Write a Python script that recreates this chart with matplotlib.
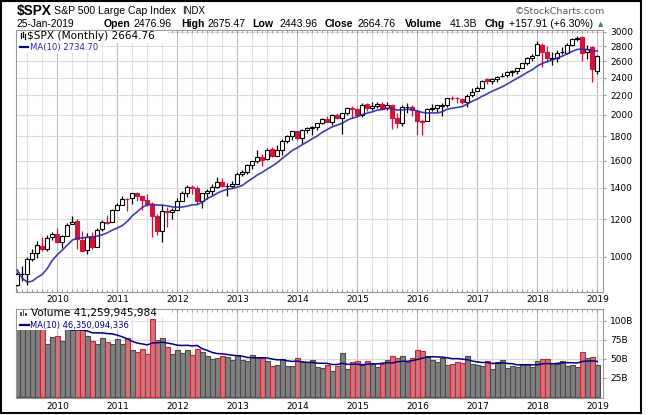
import numpy as np
import pandas as pd
import matplotlib
matplotlib.use('Agg')
import matplotlib.pyplot as plt
from matplotlib.patches import Rectangle
from matplotlib.lines import Line2D
from matplotlib.ticker import FixedLocator, NullLocator, NullFormatter

# monthly $SPX candles, May 2009 .. Jan 2019
months = pd.date_range('2009-05-01', '2019-01-01', freq='MS')

# closes Aug 2008 .. Apr 2009, only needed to start the 10-month average
prior_closes = [1282.83, 1166.36, 968.75, 896.24, 903.25, 825.88, 735.09, 797.87, 872.81]

opens = [
    872.74, 919.96, 920.82, 990.22, 1019.52, 1054.91, 1036.18, 1098.89,
    1116.56, 1073.89, 1105.36, 1171.23, 1188.58, 1087.30, 1031.10, 1107.53, 1049.72, 1143.49, 1185.71, 1186.60,
    1257.62, 1289.14, 1328.64, 1329.48, 1365.21, 1345.20, 1320.64, 1292.59, 1219.12, 1131.21, 1251.00, 1246.91,
    1258.86, 1312.45, 1365.90, 1408.47, 1397.86, 1309.87, 1362.33, 1379.32, 1406.54, 1440.90, 1412.20, 1416.18,
    1426.19, 1498.11, 1514.68, 1569.18, 1597.55, 1631.71, 1609.78, 1689.42, 1635.95, 1682.41, 1758.70, 1806.55,
    1845.86, 1782.68, 1857.68, 1873.96, 1884.39, 1923.87, 1962.29, 1929.80, 2004.07, 1971.44, 2018.21, 2065.78,
    2058.90, 1996.67, 2105.23, 2067.63, 2087.38, 2108.64, 2067.00, 2104.49, 1970.09, 1919.65, 2080.76, 2082.93,
    2038.20, 1936.94, 1937.09, 2056.62, 2067.17, 2093.94, 2099.34, 2173.15, 2171.33, 2164.33, 2128.68, 2200.17,
    2251.57, 2285.59, 2380.13, 2362.34, 2388.50, 2415.65, 2431.39, 2477.10, 2474.42, 2521.20, 2583.21, 2645.10,
    2683.73, 2816.45, 2715.22, 2633.45, 2642.96, 2718.70, 2704.95, 2821.17, 2896.96, 2926.29, 2717.58, 2790.50,
    2476.96]
highs = [
    930.17, 956.23, 996.68, 1039.47, 1080.15, 1101.36, 1113.69, 1130.38,
    1150.45, 1112.42, 1180.69, 1219.80, 1205.13, 1131.23, 1120.95, 1129.24, 1148.90, 1196.14, 1227.08, 1262.60,
    1302.67, 1344.07, 1332.28, 1364.56, 1370.58, 1345.20, 1356.48, 1307.38, 1229.29, 1292.66, 1277.55, 1269.37,
    1333.47, 1378.04, 1419.15, 1422.38, 1415.32, 1363.46, 1391.74, 1426.68, 1474.51, 1470.96, 1434.27, 1448.00,
    1509.94, 1530.94, 1570.28, 1597.57, 1687.18, 1654.19, 1698.78, 1709.67, 1729.86, 1775.22, 1813.55, 1849.44,
    1850.84, 1867.92, 1883.97, 1897.28, 1924.03, 1968.17, 1991.39, 2005.04, 2019.26, 2018.19, 2075.76, 2093.55,
    2072.36, 2119.59, 2117.52, 2125.92, 2134.72, 2129.87, 2132.82, 2112.66, 2020.86, 2094.32, 2116.48, 2104.27,
    2038.20, 1962.96, 2072.21, 2111.05, 2103.48, 2120.55, 2177.09, 2193.81, 2187.87, 2169.60, 2214.10, 2277.53,
    2300.99, 2371.54, 2400.98, 2398.16, 2418.71, 2453.82, 2484.04, 2490.87, 2519.44, 2582.98, 2657.74, 2694.97,
    2872.87, 2835.96, 2801.90, 2717.49, 2742.24, 2791.47, 2848.03, 2916.50, 2940.91, 2939.86, 2815.15, 2800.18,
    2675.47]
lows = [
    866.10, 888.86, 869.32, 978.51, 991.97, 1029.38, 1029.38, 1085.89,
    1071.59, 1044.50, 1105.36, 1170.69, 1040.78, 1028.33, 1010.91, 1039.70, 1048.18, 1131.87, 1173.00, 1186.60,
    1257.62, 1289.14, 1249.05, 1294.70, 1311.80, 1258.07, 1282.86, 1101.54, 1114.22, 1074.77, 1158.66, 1202.37,
    1258.86, 1312.45, 1340.03, 1357.38, 1291.98, 1266.74, 1325.41, 1354.65, 1396.56, 1403.28, 1343.35, 1398.11,
    1426.19, 1485.01, 1501.48, 1536.03, 1581.28, 1560.33, 1604.57, 1627.47, 1633.41, 1646.47, 1746.20, 1767.99,
    1770.45, 1737.92, 1834.44, 1814.36, 1859.79, 1915.98, 1930.67, 1904.78, 1964.04, 1820.66, 2001.01, 1972.56,
    1988.12, 1980.90, 2039.69, 2048.38, 2067.93, 2056.32, 2044.02, 1867.01, 1871.91, 1893.70, 2019.39, 1993.26,
    1812.29, 1810.10, 1937.09, 2033.80, 2025.91, 1991.68, 2074.02, 2147.58, 2119.12, 2114.72, 2083.79, 2187.44,
    2245.13, 2271.65, 2322.25, 2328.95, 2352.72, 2405.70, 2407.70, 2417.35, 2446.55, 2520.40, 2557.45, 2605.52,
    2682.36, 2532.69, 2585.89, 2553.80, 2594.62, 2691.99, 2698.95, 2796.34, 2864.12, 2603.54, 2631.09, 2346.58,
    2443.96]
closes = [
    919.14, 919.32, 987.48, 1020.62, 1057.08, 1036.19, 1095.63, 1115.10,
    1073.87, 1104.49, 1169.43, 1186.69, 1089.41, 1030.71, 1101.60, 1049.33, 1141.20, 1183.26, 1180.55, 1257.64,
    1286.12, 1327.22, 1325.83, 1363.61, 1345.20, 1320.64, 1292.28, 1218.89, 1131.42, 1253.30, 1246.96, 1257.60,
    1312.41, 1365.68, 1408.47, 1397.91, 1310.33, 1362.16, 1379.32, 1406.58, 1440.67, 1412.16, 1416.18, 1426.19,
    1498.11, 1514.68, 1569.19, 1597.57, 1630.74, 1606.28, 1685.73, 1632.97, 1681.55, 1756.54, 1805.81, 1848.36,
    1782.59, 1859.45, 1872.34, 1883.95, 1923.57, 1960.23, 1930.67, 2003.37, 1972.29, 2018.05, 2067.56, 2058.90,
    1994.99, 2104.50, 2067.89, 2085.51, 2107.39, 2063.11, 2103.84, 1972.18, 1920.03, 2079.36, 2080.41, 2043.94,
    1940.24, 1932.23, 2059.74, 2065.30, 2096.95, 2098.86, 2173.60, 2170.95, 2168.27, 2126.15, 2198.81, 2238.83,
    2278.87, 2363.64, 2362.72, 2384.20, 2411.80, 2423.41, 2470.30, 2471.65, 2519.36, 2575.26, 2647.58, 2673.61,
    2823.81, 2713.83, 2640.87, 2648.05, 2705.27, 2718.37, 2816.29, 2901.52, 2913.98, 2711.74, 2760.17, 2506.85,
    2664.76]
# monthly volume, billions
volumes = [
    105.0, 112.0, 96.0, 100.0, 93.0, 98.0, 69.7, 78.5,
    80.4, 73.7, 93.0, 92.0, 104.0, 95.0, 80.4, 73.7, 69.7, 77.2, 71.9, 69.7,
    76.3, 69.7, 77.2, 61.4, 58.8, 62.7, 56.6, 102.6, 75.0, 77.2, 65.4, 56.6,
    61.4, 57.5, 61.4, 54.8, 62.7, 58.8, 53.6, 49.5, 50.9, 53.6, 52.2, 48.2,
    54.8, 48.2, 46.9, 54.8, 52.2, 50.9, 46.9, 40.4, 41.7, 49.5, 40.4, 40.4,
    50.9, 45.6, 45.6, 48.2, 39.0, 37.7, 41.7, 33.8, 40.4, 57.5, 36.4, 45.6,
    46.9, 41.7, 46.9, 43.0, 39.0, 43.0, 48.2, 53.6, 50.9, 53.6, 45.6, 50.9,
    61.4, 60.1, 53.6, 48.2, 45.6, 50.9, 41.7, 43.0, 45.6, 44.3, 53.6, 43.0,
    41.7, 40.4, 46.9, 36.4, 45.6, 48.2, 37.7, 40.4, 39.0, 43.0, 43.0, 39.0,
    46.9, 49.5, 49.5, 44.8, 43.5, 47.5, 41.0, 42.2, 39.5, 59.3, 51.5, 52.8,
    41.26]

price_ticks = [1000, 1200, 1400, 1600, 1800, 2000, 2200, 2400, 2600, 2800, 3000]
vol_ticks = [25, 50, 75, 100]

RED = '#d2143c'
BLUE = '#2a2aaa'
NAVY = '#000080'

o = np.array(opens); h = np.array(highs); l = np.array(lows); c = np.array(closes)
v = np.array(volumes)
n = len(c)
x = np.arange(n)
prev = np.r_[prior_closes[-1], c[:-1]]
down = c < prev
hollow = c >= o
ma = pd.Series(prior_closes + closes).rolling(10).mean().values[len(prior_closes):]
vma = pd.Series(volumes).rolling(10).mean().values

years = np.where(months.month == 1)[0]
quarters = np.where(months.month % 3 == 1)[0]

W, H = 650, 415
fig = plt.figure(figsize=(W / 100, H / 100), dpi=100)


def box(left, top, right, bottom):
    return [left / W, 1 - bottom / H, (right - left) / W, (bottom - top) / H]


def px(xp, yp):
    return xp / W, 1 - yp / H


ax = fig.add_axes(box(16, 30.5, 603, 291.7))
axv = fig.add_axes(box(16, 309, 603, 398.3))

for a in (ax, axv):
    a.set_xlim(-0.26, 117.14)
    for q in quarters:
        if q in years:
            a.axvline(q, color='#bdbdbd', lw=0.8, zorder=0)
        else:
            a.axvline(q, color='#e0e0e0', lw=0.8, zorder=0)
    a.set_xticks(years)
    a.set_xticklabels([str(y) for y in months.year[years]])
    a.set_xticks(x, minor=True)
    a.tick_params(axis='x', which='both', length=2, direction='in', top=True,
                  color='#999999', labelsize=6.5, pad=2.5)
    a.yaxis.tick_right()
    a.tick_params(axis='y', which='major', length=2, color='#999999', labelsize=6.5, pad=3)
    for s in a.spines.values():
        s.set_color('#999999')
        s.set_linewidth(0.8)

# price panel
ax.set_yscale('log')
ax.set_ylim(842.7, 3022)
ax.yaxis.set_major_locator(FixedLocator(price_ticks))
ax.yaxis.set_minor_locator(NullLocator())
ax.yaxis.set_minor_formatter(NullFormatter())
ax.set_yticklabels([str(t) for t in price_ticks])
for t in price_ticks:
    ax.axhline(t, color='#dcdcdc', lw=0.8, zorder=0)

for i in range(n):
    col = RED if down[i] else 'black'
    ax.vlines(x[i], l[i], h[i], color=col, lw=0.9, zorder=2)
    lo, hi = min(o[i], c[i]), max(o[i], c[i])
    ax.bar(x[i], max(hi - lo, 0.6), bottom=lo, width=0.8,
           facecolor='white' if hollow[i] else col, edgecolor=col, lw=0.8, zorder=3)
ax.plot(x, ma, color=BLUE, lw=1.2, zorder=4, alpha=0.9)

# volume panel
axv.set_ylim(-2.1, 115.4)
axv.set_yticks(vol_ticks)
axv.set_yticklabels(['%dB' % t for t in vol_ticks])
for t in vol_ticks:
    axv.axhline(t, color='#dcdcdc', lw=0.8, zorder=0)
axv.bar(x, v, width=1.0,
        color=np.where(down, '#d3747c', '#808080'),
        edgecolor=np.where(down, '#c02838', '#4a4a4a'), lw=0.8, zorder=2)
axv.plot(x, vma, color=NAVY, lw=1.1, zorder=4)

# white boxes behind the panel legends
for l_, t_, r_, b_ in [(17, 31, 168, 43), (17, 43, 101, 53), (17, 309.5, 168, 318), (17, 318, 131, 330)]:
    fig.add_artist(Rectangle(px(l_, b_), (r_ - l_) / W, (b_ - t_) / H, transform=fig.transFigure,
                             facecolor='white', edgecolor='none', zorder=5))

# header
fig.text(*px(16.7, 15), '$SPX', family='Liberation Sans', fontweight='bold', fontsize=9.8, va='baseline')
fig.text(*px(54, 14.5), 'S&P 500 Large Cap Index', family='Liberation Sans', fontsize=7.6, va='baseline')
fig.text(*px(182, 14.5), 'INDX', family='Liberation Sans', fontsize=6.9, va='baseline')
fig.text(*px(515, 14.5), '\u00a9StockCharts.com', family='DejaVu Sans', fontsize=6.8, color='#555555', va='baseline')
fig.text(*px(16.7, 26.8), '25-Jan-2019', family='Liberation Sans', fontsize=7.4, va='baseline')
row = [(104, 'Open', True), (133, '2476.96', False), (181, 'High', True), (207, '2675.47', False),
       (252, 'Low', True), (279, '2443.96', False), (325, 'Close', True), (358, '2664.76', False),
       (405, 'Volume', True), (450, '41.3B', False), (485, 'Chg', True), (509, '+157.91 (+6.30%)', False)]
for xp, s, bold in row:
    fig.text(*px(xp, 26.8), s, family='Liberation Sans', fontsize=7.6,
             fontweight='bold' if bold else 'normal', va='baseline')
fig.text(*px(600.5, 24.5), '\u25b2', family='DejaVu Sans', fontsize=5, color='#3a8f3a', ha='center', va='center')

# legends
fig.text(*px(27, 39.2), '$SPX (Monthly) 2664.76', family='DejaVu Sans', fontsize=7.6, va='baseline', zorder=6)
fig.text(*px(30, 50.3), 'MA(10) 2734.70', family='DejaVu Sans', fontsize=6.1, color=BLUE, va='baseline', zorder=6)
fig.add_artist(Line2D([20 / W, 28 / W], [1 - 47 / H] * 2, color=NAVY, lw=1.6, zorder=6))
fig.text(*px(31.5, 316.3), 'Volume 41,259,945,984', family='DejaVu Sans', fontsize=7.6, va='baseline', zorder=6)
fig.text(*px(30.5, 327.8), 'MA(10) 46,350,094,336', family='DejaVu Sans', fontsize=6.0, color=NAVY, va='baseline', zorder=6)
fig.add_artist(Line2D([20 / W, 29 / W], [1 - 324.5 / H] * 2, color=NAVY, lw=1.6, zorder=6))

# tiny legend icons
for xi, y0, y1 in [(21, 33, 38), (22.5, 32, 37.5), (24.5, 34, 39)]:
    fig.add_artist(Line2D([xi / W] * 2, [1 - y0 / H, 1 - y1 / H], color='black', lw=0.9, zorder=6))
for xi, top in [(21, 312), (23.5, 310), (26, 313)]:
    fig.add_artist(Rectangle(px(xi - 0.8, 316), 1.6 / W, (316 - top) / H, transform=fig.transFigure,
                             facecolor='#555555', edgecolor='none', zorder=6))

# outer frame
fig.add_artist(Rectangle((1 / W, 1 - 413 / H), 640 / W, 412 / H, transform=fig.transFigure,
                         facecolor='none', edgecolor='black', lw=1.5, zorder=7))

fig.savefig('out.png', dpi=100)
